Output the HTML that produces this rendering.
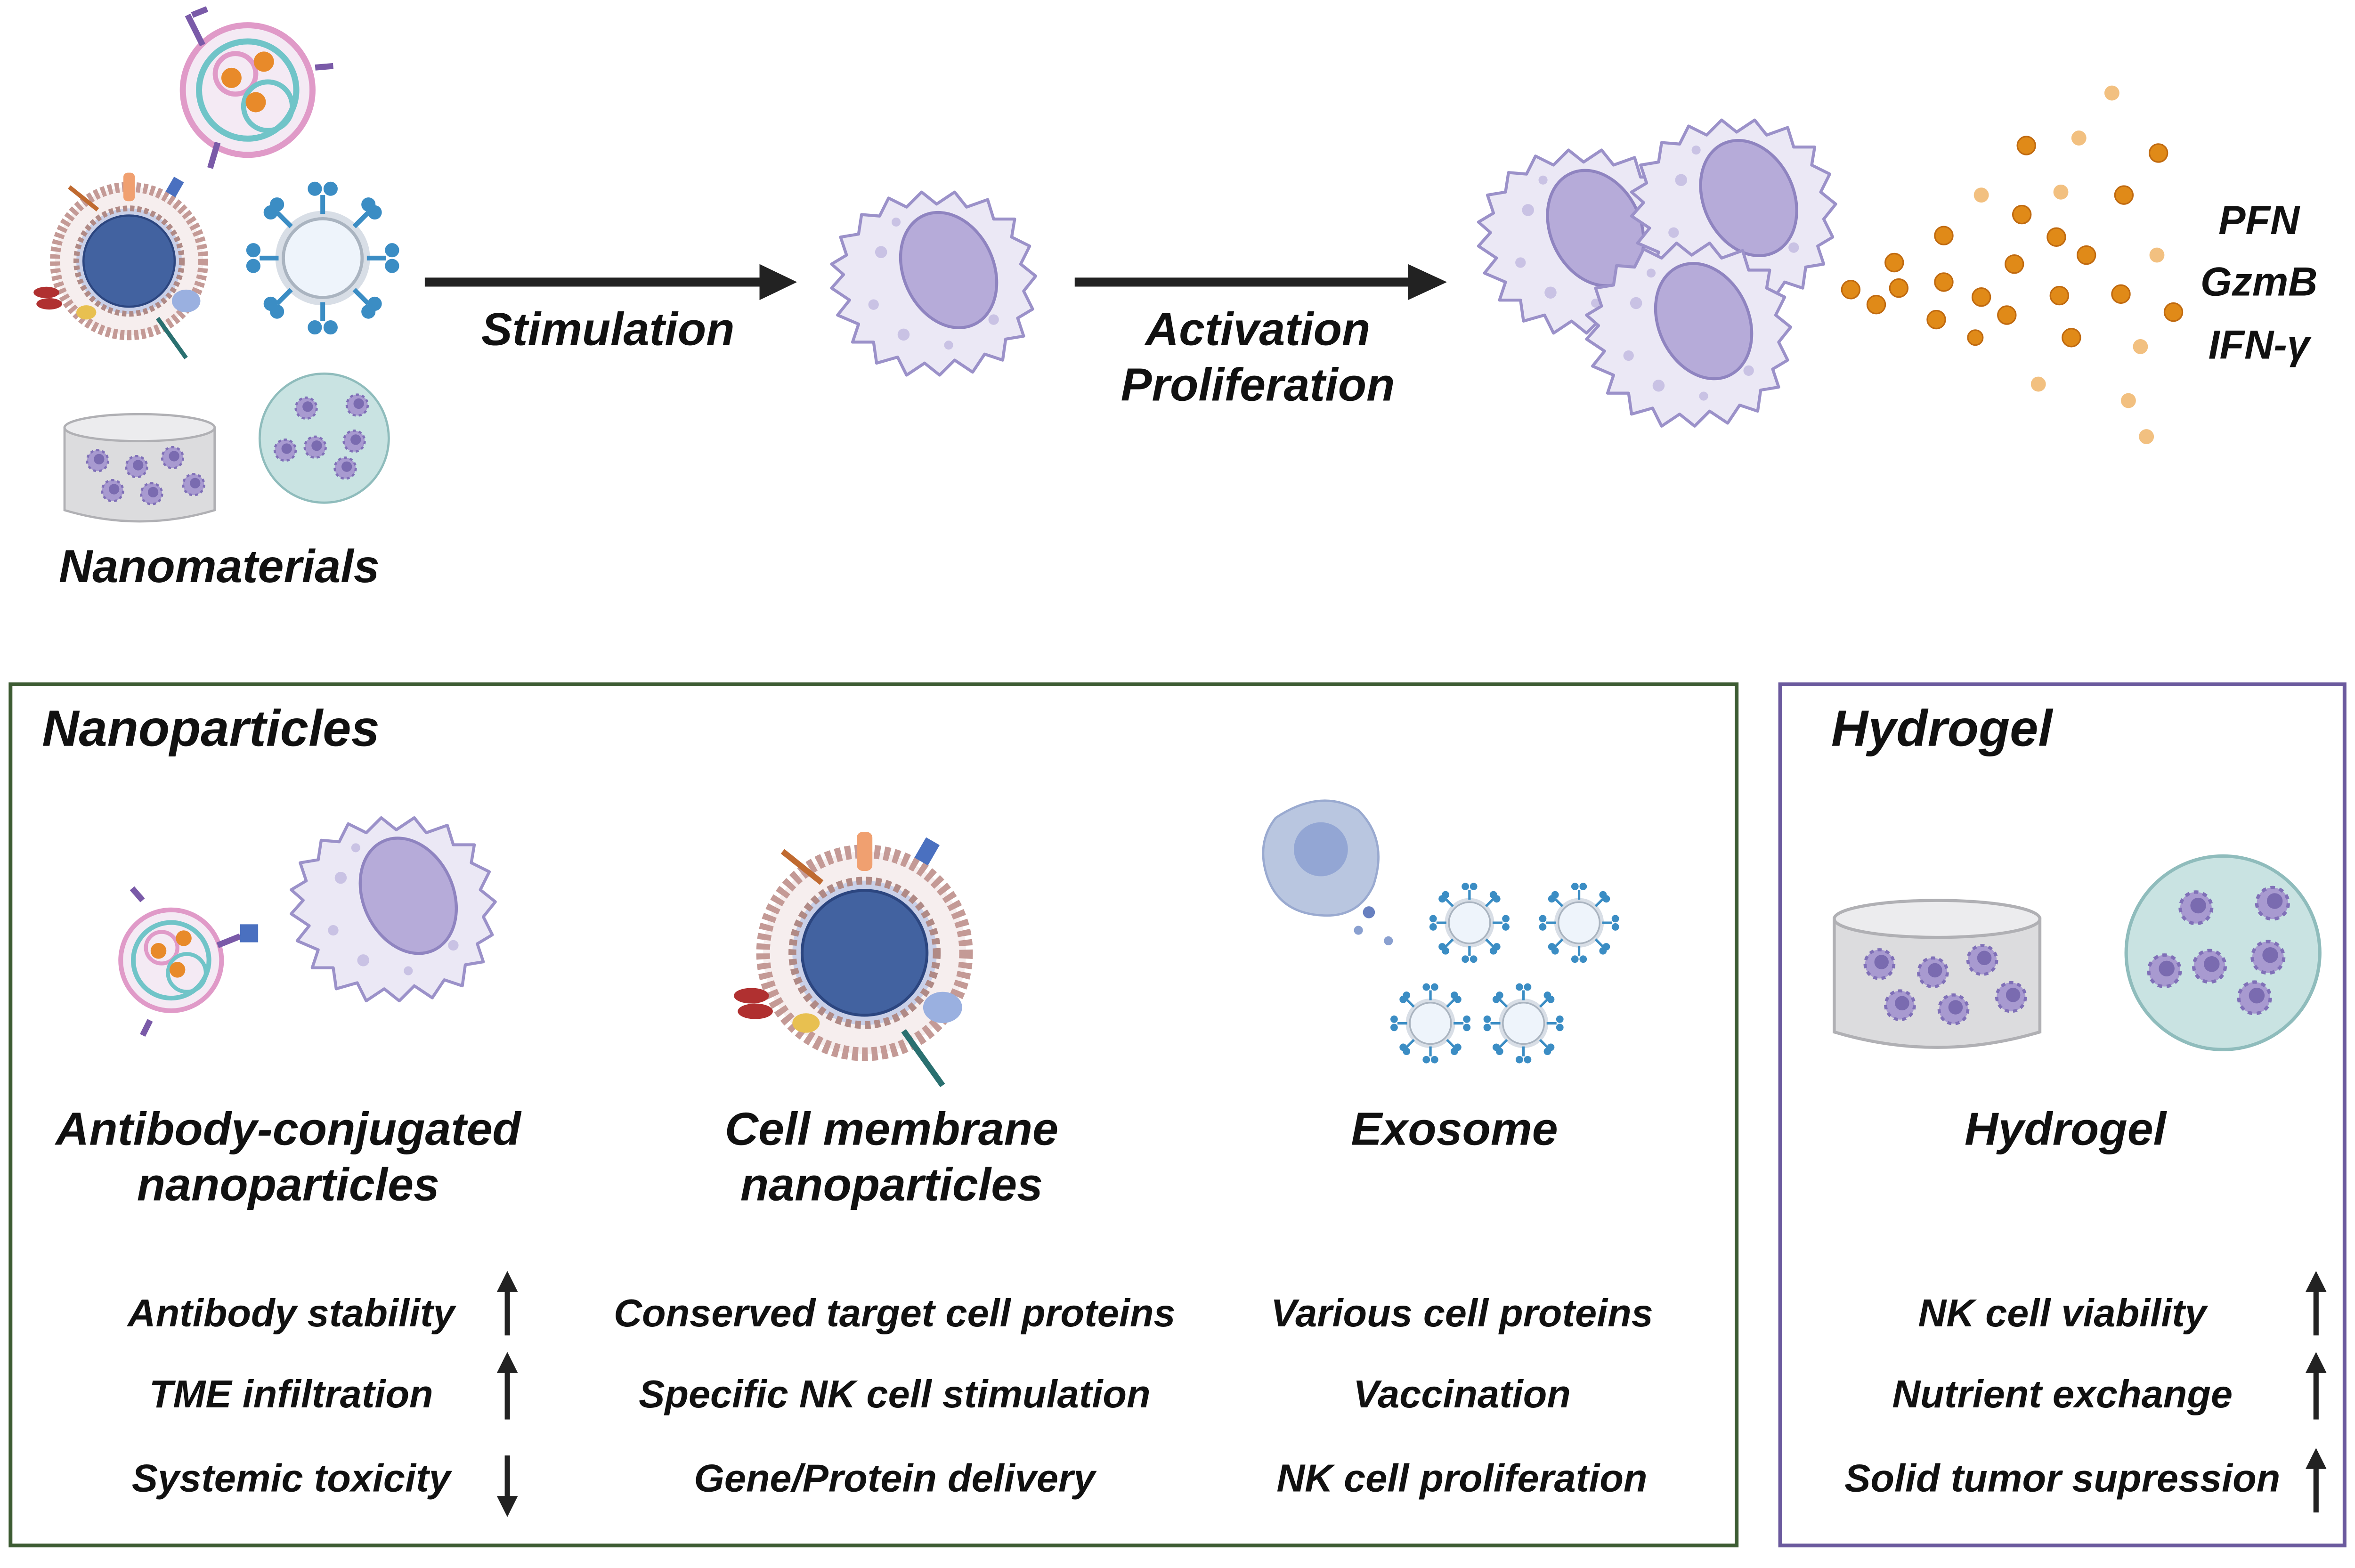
<!DOCTYPE html>
<html><head><meta charset="utf-8"><style>
html,body{margin:0;padding:0;background:#fff;}
svg{display:block;}
text{font-family:"Liberation Sans",sans-serif;font-weight:bold;font-style:italic;fill:#111;}
</style></head><body>
<svg width="5032" height="3329" viewBox="0 0 1579 1045" preserveAspectRatio="none" xmlns="http://www.w3.org/2000/svg">
<defs>
<g id="nk">
 <path d="M-60,-5 L-68,-12 L-58,-18 L-62,-30 L-50,-32 L-48,-45 L-36,-44 L-30,-56 L-18,-50 L-8,-60 L2,-52 L14,-60 L22,-50 L36,-55 L40,-42 L54,-42 L52,-30 L64,-24 L58,-12 L68,-4 L60,6 L66,18 L56,24 L60,36 L48,38 L46,52 L34,48 L26,60 L14,52 L4,62 L-6,54 L-18,62 L-24,50 L-38,54 L-40,40 L-54,40 L-50,28 L-64,22 L-56,12 L-68,4 Z" fill="#ebe8f5" stroke="#9b91c9" stroke-width="2" stroke-linejoin="round"/>
 <ellipse cx="10" cy="-8" rx="30" ry="40" transform="rotate(-25 10 -8)" fill="#b6abd9" stroke="#8f84c0" stroke-width="2"/>
 <circle cx="-35" cy="-20" r="4" fill="#c9c2e4"/><circle cx="-40" cy="15" r="3.5" fill="#c9c2e4"/>
 <circle cx="-20" cy="35" r="4" fill="#c9c2e4"/><circle cx="10" cy="42" r="3" fill="#c9c2e4"/>
 <circle cx="40" cy="25" r="3.5" fill="#c9c2e4"/><circle cx="-25" cy="-40" r="3" fill="#c9c2e4"/>
</g>
<g id="mini"><circle r="7" fill="#a89ad0" stroke="#8070b8" stroke-width="1.5" stroke-dasharray="2 2"/><circle cx="1" cy="-1" r="3.5" fill="#7a6bb0"/></g>
<g id="gel">
 <path d="M0,20 L0,75 Q50,90 100,75 L100,20 Z" fill="#dcdcde" stroke="#b0b0b4" stroke-width="1.5"/>
 <ellipse cx="50" cy="20" rx="50" ry="9" fill="#ececee" stroke="#b0b0b4" stroke-width="1.5"/>
 <use href="#mini" x="22" y="42"/><use href="#mini" x="48" y="46"/><use href="#mini" x="72" y="40"/>
 <use href="#mini" x="32" y="62"/><use href="#mini" x="58" y="64"/><use href="#mini" x="86" y="58"/>
</g>
<g id="sphere">
 <circle r="43" fill="#c9e3e2" stroke="#8fbcbc" stroke-width="1.5"/>
 <use href="#mini" x="-12" y="-20"/><use href="#mini" x="22" y="-22"/><use href="#mini" x="20" y="2"/>
 <use href="#mini" x="-26" y="8"/><use href="#mini" x="-6" y="6"/><use href="#mini" x="14" y="20"/>
</g>
<g id="ves">
 <circle r="30" fill="#d8dee6"/><circle r="25" fill="#eef4fb" stroke="#aab4c0" stroke-width="2"/>
 <g stroke="#3b8dc4" stroke-width="3" fill="#3b8dc4">
 <line x1="0" y1="-28" x2="0" y2="-40"/><circle cx="-5" cy="-44" r="3"/><circle cx="5" cy="-44" r="3"/>
 <line x1="0" y1="28" x2="0" y2="40"/><circle cx="-5" cy="44" r="3"/><circle cx="5" cy="44" r="3"/>
 <line x1="-28" y1="0" x2="-40" y2="0"/><circle cx="-44" cy="-5" r="3"/><circle cx="-44" cy="5" r="3"/>
 <line x1="28" y1="0" x2="40" y2="0"/><circle cx="44" cy="-5" r="3"/><circle cx="44" cy="5" r="3"/>
 <line x1="20" y1="20" x2="29" y2="29"/><circle cx="33" cy="29" r="3"/><circle cx="29" cy="34" r="3"/>
 <line x1="-20" y1="20" x2="-29" y2="29"/><circle cx="-33" cy="29" r="3"/><circle cx="-29" cy="34" r="3"/>
 <line x1="20" y1="-20" x2="29" y2="-29"/><circle cx="33" cy="-29" r="3"/><circle cx="29" cy="-34" r="3"/>
 <line x1="-20" y1="-20" x2="-29" y2="-29"/><circle cx="-33" cy="-29" r="3"/><circle cx="-29" cy="-34" r="3"/>
 </g>
</g>
<g id="memb">
 <circle r="52" fill="#f6eeee" stroke="#c49a96" stroke-width="7" stroke-dasharray="3 2"/>
 <circle r="37" fill="#c9d0e8" stroke="#b08a86" stroke-width="4" stroke-dasharray="3 2"/>
 <circle r="32" fill="#4262a0" stroke="#2c4680" stroke-width="1.5"/>
 <rect x="-4" y="-62" width="8" height="20" rx="3" fill="#f0a070"/>
 <path d="M-42,-52 L-22,-36" stroke="#c06a30" stroke-width="3"/>
 <ellipse cx="-58" cy="22" rx="9" ry="4" fill="#b03030"/><ellipse cx="-56" cy="30" rx="9" ry="4" fill="#b03030"/>
 <ellipse cx="-30" cy="36" rx="7" ry="5" fill="#e8c050"/>
 <ellipse cx="40" cy="28" rx="10" ry="8" fill="#9ab0e0"/>
 <path d="M20,40 L40,68" stroke="#2a7070" stroke-width="3"/>
 <rect x="28" y="-58" width="8" height="12" fill="#4a70c0" transform="rotate(30 32 -52)"/>
</g>
<g id="poly">
 <circle r="32" fill="#f4eaf4" stroke="#e09ac8" stroke-width="3"/>
 <circle r="24" fill="none" stroke="#70c4c8" stroke-width="3"/>
 <circle cx="-6" cy="-8" r="10" fill="none" stroke="#e09ac8" stroke-width="2.5"/>
 <circle cx="10" cy="8" r="12" fill="none" stroke="#70c4c8" stroke-width="2.5"/>
 <circle cx="-8" cy="-6" r="5" fill="#e88a2a"/><circle cx="8" cy="-14" r="5" fill="#e88a2a"/><circle cx="4" cy="6" r="5" fill="#e88a2a"/>
</g>
</defs>

<g transform="translate(165,60) scale(1.35)"><use href="#poly"/></g>
<g stroke="#7a5aa8" stroke-width="4"><line x1="135" y1="30" x2="125" y2="10"/><line x1="128" y1="10" x2="138" y2="6"/><line x1="210" y1="45" x2="222" y2="44"/><line x1="145" y1="95" x2="140" y2="112"/></g>
<g transform="translate(86,174) scale(0.95)"><use href="#memb"/></g>
<g transform="translate(215,172) scale(1.05)"><use href="#ves"/></g>
<g transform="translate(43,265)"><use href="#gel"/></g>
<g transform="translate(216,292)"><use href="#sphere"/></g>
<text x="146" y="388" font-size="31" text-anchor="middle">Nanomaterials</text>

<line x1="283" y1="188" x2="510" y2="188" stroke="#222" stroke-width="6"/>
<polygon points="506,176 531,188 506,200" fill="#222"/>
<line x1="716" y1="188" x2="942" y2="188" stroke="#222" stroke-width="6"/>
<polygon points="938,176 964,188 938,200" fill="#222"/>
<text x="405" y="230" font-size="31" text-anchor="middle">Stimulation</text>
<text x="838" y="230" font-size="31" text-anchor="middle">Activation</text>
<text x="838" y="267" font-size="31" text-anchor="middle">Proliferation</text>

<use href="#nk" x="622" y="188"/>
<use href="#nk" x="1053" y="160"/>
<use href="#nk" x="1155" y="140"/>
<use href="#nk" x="1125" y="222"/>

<g fill="#e08a18" stroke="#c06a10" stroke-width="1">
<circle cx="1350" cy="97" r="6"/><circle cx="1438" cy="102" r="6"/><circle cx="1415" cy="130" r="6"/><circle cx="1262" cy="175" r="6"/>
<circle cx="1295" cy="157" r="6"/><circle cx="1347" cy="143" r="6"/><circle cx="1370" cy="158" r="6"/><circle cx="1390" cy="170" r="6"/>
<circle cx="1342" cy="176" r="6"/><circle cx="1233" cy="193" r="6"/><circle cx="1265" cy="192" r="6"/><circle cx="1295" cy="188" r="6"/>
<circle cx="1320" cy="198" r="6"/><circle cx="1372" cy="197" r="6"/><circle cx="1413" cy="196" r="6"/><circle cx="1250" cy="203" r="6"/>
<circle cx="1290" cy="213" r="6"/><circle cx="1337" cy="210" r="6"/><circle cx="1448" cy="208" r="6"/><circle cx="1380" cy="225" r="6"/><circle cx="1316" cy="225" r="5"/>
</g>
<g fill="#f2c080">
<circle cx="1407" cy="62" r="5"/><circle cx="1385" cy="92" r="5"/><circle cx="1320" cy="130" r="5"/><circle cx="1373" cy="128" r="5"/>
<circle cx="1437" cy="170" r="5"/><circle cx="1426" cy="231" r="5"/><circle cx="1358" cy="256" r="5"/><circle cx="1418" cy="267" r="5"/><circle cx="1430" cy="291" r="5"/>
</g>
<text x="1505" y="156" font-size="27" text-anchor="middle">PFN</text>
<text x="1505" y="197" font-size="27" text-anchor="middle">GzmB</text>
<text x="1505" y="239" font-size="27" text-anchor="middle">IFN-γ</text>

<rect x="7" y="456" width="1150" height="574" fill="none" stroke="#3d5c33" stroke-width="2.5"/>
<rect x="1186" y="456" width="376" height="574" fill="none" stroke="#6b5a9e" stroke-width="2.5"/>
<text x="28" y="497" font-size="34">Nanoparticles</text>
<text x="1220" y="497" font-size="34">Hydrogel</text>

<g transform="translate(114,640) scale(1.05)"><use href="#poly"/></g>
<g stroke="#7a5aa8" stroke-width="4"><line x1="95" y1="600" x2="88" y2="592"/><line x1="100" y1="680" x2="95" y2="690"/><line x1="145" y1="630" x2="160" y2="624"/></g>
<rect x="160" y="616" width="12" height="12" fill="#4a70c0"/>
<use href="#nk" x="262" y="605"/>
<g transform="translate(576,635) scale(1.3)"><use href="#memb"/></g>

<path d="M850,545 Q880,525 905,540 Q925,560 915,590 Q905,612 880,610 Q850,608 843,580 Q838,560 850,545Z" fill="#b9c6e0" stroke="#9aaad0" stroke-width="1.5"/>
<circle cx="880" cy="566" r="18" fill="#93a6d4"/>
<circle cx="905" cy="620" r="3" fill="#8aa0d0"/><circle cx="912" cy="608" r="4" fill="#6880c0"/><circle cx="925" cy="627" r="3" fill="#8aa0d0"/>
<g transform="translate(979,615) scale(0.55)"><use href="#ves"/></g>
<g transform="translate(1052,615) scale(0.55)"><use href="#ves"/></g>
<g transform="translate(953,682) scale(0.55)"><use href="#ves"/></g>
<g transform="translate(1015,682) scale(0.55)"><use href="#ves"/></g>

<g transform="translate(1222,585) scale(1.37)"><use href="#gel"/></g>
<g transform="translate(1481,635) scale(1.5)"><use href="#sphere"/></g>

<g font-size="31" text-anchor="middle">
<text x="192" y="763">Antibody-conjugated</text>
<text x="192" y="800">nanoparticles</text>
<text x="594" y="763">Cell membrane</text>
<text x="594" y="800">nanoparticles</text>
<text x="969" y="763">Exosome</text>
<text x="1376" y="763">Hydrogel</text>
</g>
<g font-size="26" text-anchor="middle">
<text x="194" y="884">Antibody stability</text>
<text x="194" y="938">TME infiltration</text>
<text x="194" y="994">Systemic toxicity</text>
<text x="596" y="884">Conserved target cell proteins</text>
<text x="596" y="938">Specific NK cell stimulation</text>
<text x="596" y="994">Gene/Protein delivery</text>
<text x="974" y="884">Various cell proteins</text>
<text x="974" y="938">Vaccination</text>
<text x="974" y="994">NK cell proliferation</text>
<text x="1374" y="884">NK cell viability</text>
<text x="1374" y="938">Nutrient exchange</text>
<text x="1374" y="994">Solid tumor supression</text>
</g>
<g fill="#222" stroke="#222" stroke-width="3.5">
<line x1="338" y1="858" x2="338" y2="890"/><polygon points="331,861 338,847 345,861" stroke="none"/>
<line x1="338" y1="912" x2="338" y2="946"/><polygon points="331,915 338,901 345,915" stroke="none"/>
<line x1="338" y1="970" x2="338" y2="1000"/><polygon points="331,997 338,1011 345,997" stroke="none"/>
<line x1="1543" y1="858" x2="1543" y2="890"/><polygon points="1536,861 1543,847 1550,861" stroke="none"/>
<line x1="1543" y1="912" x2="1543" y2="946"/><polygon points="1536,915 1543,901 1550,915" stroke="none"/>
<line x1="1543" y1="976" x2="1543" y2="1008"/><polygon points="1536,979 1543,965 1550,979" stroke="none"/>
</g>
</svg>
</body></html>
